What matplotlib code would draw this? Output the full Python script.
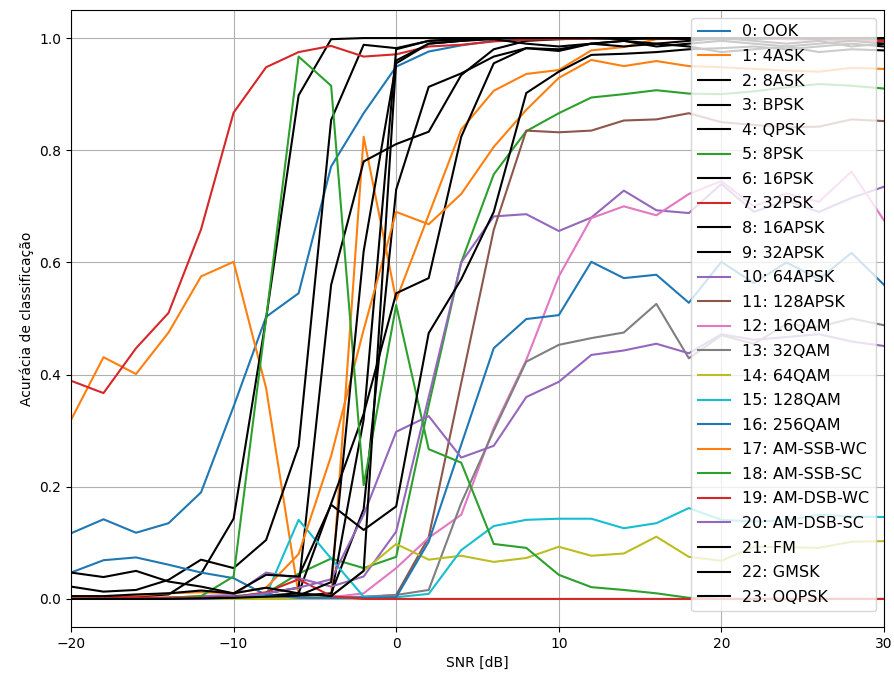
import matplotlib
matplotlib.use("Agg")
import matplotlib.pyplot as plt

snr = [-20, -18, -16, -14, -12, -10, -8, -6, -4, -2, 0, 2, 4, 6, 8, 10,
       12, 14, 16, 18, 20, 22, 24, 26, 28, 30]

labels = ["0: OOK", "1: 4ASK", "2: 8ASK", "3: BPSK", "4: QPSK", "5: 8PSK",
          "6: 16PSK", "7: 32PSK", "8: 16APSK", "9: 32APSK", "10: 64APSK",
          "11: 128APSK", "12: 16QAM", "13: 32QAM", "14: 64QAM", "15: 128QAM",
          "16: 256QAM", "17: AM-SSB-WC", "18: AM-SSB-SC", "19: AM-DSB-WC",
          "20: AM-DSB-SC", "21: FM", "22: GMSK", "23: OQPSK"]

acc_ook = [0.117, 0.142, 0.118, 0.135, 0.19, 0.343, 0.503, 0.545, 0.771, 0.866, 0.949, 0.976, 0.987,
           0.995, 0.998, 1.0, 1.0, 1.0, 1.0, 1.0, 1.0, 1.0, 1.0, 1.0, 1.0, 1.0]
acc_4ask = [0.319, 0.431, 0.401, 0.475, 0.575, 0.601, 0.376, 0.007, 0.003, 0.824, 0.533, 0.685, 0.837,
            0.906, 0.936, 0.943, 0.978, 0.984, 0.998, 1.0, 1.0, 1.0, 1.0, 1.0, 1.0, 0.998]
acc_8ask = [0.022, 0.013, 0.016, 0.034, 0.07, 0.055, 0.105, 0.272, 0.854, 0.988, 0.982, 0.995, 0.998,
            1.0, 1.0, 0.999, 1.0, 1.0, 1.0, 0.998, 1.0, 1.0, 0.999, 1.0, 0.998, 0.995]
acc_bpsk = [0.003, 0.002, 0.004, 0.008, 0.045, 0.143, 0.5, 0.898, 0.998, 1.0, 1.0, 1.0, 1.0,
            1.0, 1.0, 1.0, 1.0, 1.0, 1.0, 1.0, 1.0, 1.0, 1.0, 1.0, 1.0, 1.0]
acc_qpsk = [0.0, 0.0, 0.0, 0.001, 0.002, 0.003, 0.01, 0.02, 0.56, 0.78, 0.811, 0.833, 0.934,
            0.98, 0.995, 0.998, 1.0, 1.0, 0.999, 1.0, 1.0, 0.998, 1.0, 1.0, 0.999, 1.0]
acc_8psk = [0.0, 0.0, 0.0, 0.0, 0.002, 0.005, 0.01, 0.045, 0.072, 0.055, 0.075, 0.345, 0.6,
            0.757, 0.834, 0.866, 0.894, 0.9, 0.907, 0.901, 0.9, 0.905, 0.912, 0.918, 0.915, 0.91]
acc_16psk = [0.0, 0.0, 0.001, 0.002, 0.003, 0.004, 0.006, 0.01, 0.17, 0.33, 0.545, 0.572, 0.824,
             0.955, 0.982, 0.977, 0.99, 0.985, 0.99, 0.985, 0.975, 0.98, 0.985, 0.975, 0.98, 0.978]
acc_32psk = [0.389, 0.367, 0.447, 0.51, 0.659, 0.867, 0.948, 0.975, 0.986, 0.967, 0.971, 0.985, 0.988,
             0.994, 0.997, 0.998, 0.999, 1.0, 1.0, 1.0, 0.999, 1.0, 0.998, 0.997, 0.996, 0.995]
acc_16apsk = [0.0, 0.0, 0.0, 0.0, 0.001, 0.002, 0.004, 0.006, 0.01, 0.16, 0.73, 0.913, 0.937,
              0.967, 0.982, 0.98, 0.99, 0.995, 0.985, 0.99, 0.995, 0.99, 0.985, 0.99, 0.995, 0.99]
acc_32apsk = [0.0, 0.0, 0.0, 0.0, 0.0, 0.001, 0.002, 0.003, 0.004, 0.32, 0.98, 0.995, 0.998,
              1.0, 1.0, 1.0, 1.0, 1.0, 1.0, 1.0, 1.0, 1.0, 1.0, 1.0, 1.0, 1.0]
acc_64apsk = [0.0, 0.0, 0.0, 0.002, 0.005, 0.007, 0.047, 0.037, 0.022, 0.04, 0.12, 0.36, 0.6,
              0.682, 0.686, 0.656, 0.68, 0.728, 0.693, 0.688, 0.74, 0.69, 0.71, 0.69, 0.715, 0.735]
acc_128apsk = [0.0, 0.0, 0.0, 0.0, 0.0, 0.0, 0.001, 0.002, 0.002, 0.003, 0.007, 0.11, 0.385,
               0.658, 0.835, 0.832, 0.835, 0.853, 0.855, 0.866, 0.85, 0.845, 0.841, 0.842, 0.855, 0.852]
acc_16qam = [0.0, 0.0, 0.0, 0.0, 0.0, 0.001, 0.002, 0.002, 0.003, 0.01, 0.055, 0.109, 0.15,
             0.305, 0.426, 0.575, 0.679, 0.7, 0.684, 0.722, 0.745, 0.7, 0.723, 0.708, 0.762, 0.675]
acc_32qam = [0.0, 0.0, 0.0, 0.0, 0.0, 0.0, 0.001, 0.002, 0.002, 0.004, 0.007, 0.016, 0.171,
             0.3, 0.423, 0.453, 0.465, 0.475, 0.526, 0.429, 0.47, 0.455, 0.49, 0.485, 0.5, 0.488]
acc_64qam = [0.0, 0.0, 0.0, 0.0, 0.0, 0.0, 0.0, 0.001, 0.005, 0.05, 0.098, 0.07, 0.077,
             0.066, 0.073, 0.093, 0.077, 0.081, 0.111, 0.075, 0.068, 0.093, 0.092, 0.091, 0.102, 0.103]
acc_128qam = [0.0, 0.0, 0.0, 0.0, 0.0, 0.002, 0.007, 0.141, 0.072, 0.004, 0.003, 0.009, 0.087,
              0.13, 0.141, 0.143, 0.143, 0.126, 0.135, 0.162, 0.141, 0.138, 0.14, 0.15, 0.147, 0.146]
acc_256qam = [0.047, 0.069, 0.074, 0.061, 0.047, 0.037, 0.007, 0.002, 0.002, 0.002, 0.003, 0.102, 0.275,
              0.447, 0.499, 0.506, 0.601, 0.572, 0.578, 0.528, 0.601, 0.563, 0.6, 0.57, 0.617, 0.56]
acc_am_ssb_wc = [0.002, 0.004, 0.006, 0.01, 0.012, 0.01, 0.02, 0.08, 0.255, 0.48, 0.69, 0.668, 0.722,
                 0.806, 0.872, 0.929, 0.961, 0.95, 0.959, 0.95, 0.948, 0.945, 0.942, 0.94, 0.947, 0.945]
acc_am_ssb_sc = [0.0, 0.0, 0.0, 0.002, 0.005, 0.04, 0.5, 0.967, 0.915, 0.203, 0.524, 0.267, 0.243,
                 0.098, 0.091, 0.043, 0.021, 0.016, 0.01, 0.002, 0.0, 0.0, 0.0, 0.0, 0.0, 0.0]
acc_am_dsb_wc = [0.005, 0.004, 0.003, 0.002, 0.002, 0.003, 0.012, 0.035, 0.005, 0.0, 0.0, 0.0, 0.0,
                 0.0, 0.0, 0.0, 0.0, 0.0, 0.0, 0.0, 0.0, 0.0, 0.0, 0.0, 0.0, 0.0]
acc_am_dsb_sc = [0.0, 0.0, 0.0, 0.0, 0.0, 0.003, 0.01, 0.02, 0.035, 0.15, 0.298, 0.326, 0.252,
                 0.273, 0.36, 0.387, 0.435, 0.443, 0.455, 0.438, 0.472, 0.462, 0.467, 0.472, 0.459, 0.451]
acc_fm = [0.005, 0.005, 0.008, 0.01, 0.015, 0.01, 0.043, 0.04, 0.168, 0.123, 0.165, 0.474, 0.57,
          0.69, 0.902, 0.94, 0.97, 0.972, 0.975, 0.98, 0.982, 0.985, 0.98, 0.985, 0.99, 0.985]
acc_gmsk = [0.0, 0.0, 0.0, 0.0, 0.001, 0.002, 0.004, 0.006, 0.03, 0.62, 0.955, 0.99, 0.995,
            1.0, 1.0, 1.0, 1.0, 0.998, 1.0, 1.0, 0.997, 1.0, 1.0, 0.998, 1.0, 1.0]
acc_oqpsk = [0.047, 0.039, 0.05, 0.031, 0.022, 0.01, 0.02, 0.01, 0.005, 0.05, 0.96, 0.99, 0.995,
             0.998, 0.99, 0.985, 0.99, 0.995, 0.99, 0.995, 1.0, 0.995, 0.99, 0.995, 0.985, 0.99]

series = [acc_ook, acc_4ask, acc_8ask, acc_bpsk, acc_qpsk, acc_8psk, acc_16psk, acc_32psk,
          acc_16apsk, acc_32apsk, acc_64apsk, acc_128apsk, acc_16qam, acc_32qam, acc_64qam,
          acc_128qam, acc_256qam, acc_am_ssb_wc, acc_am_ssb_sc, acc_am_dsb_wc, acc_am_dsb_sc,
          acc_fm, acc_gmsk, acc_oqpsk]

# classes drawn in black; the others take the next colour of the default cycle
black_idx = {2, 3, 4, 6, 8, 9, 21, 22, 23}

fig, ax = plt.subplots(figsize=(8.95, 6.77), dpi=100)
for i, (lab, vals) in enumerate(zip(labels, series)):
    if i in black_idx:
        ax.plot(snr, vals, color="black", linewidth=1.5, label=lab)
    else:
        ax.plot(snr, vals, linewidth=1.5, label=lab)

ax.set_xlim(-20, 30)
ax.set_ylim(-0.05, 1.05)
ax.grid(True)
ax.set_xlabel("SNR [dB]")
ax.set_ylabel("Acurácia de classificação")
ax.legend(loc="upper right", fontsize=11.5, labelspacing=0.6)
fig.subplots_adjust(left=0.0793, right=0.9877, top=0.9852, bottom=0.0739)
fig.savefig("out.png", dpi=100)
